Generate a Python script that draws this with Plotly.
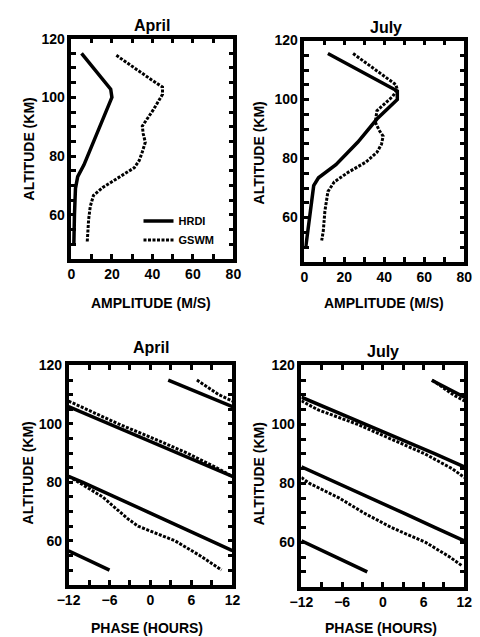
import plotly.graph_objects as go
import numpy as np

# ---------------- data ----------------
# Amplitude profiles (m/s) vs altitude (km)
apr_hrdi_amp_alt = [115, 102.8, 100, 77, 73, 69, 60, 50]
apr_hrdi_amp = [5, 19.4, 20, 6.2, 3.1, 2.0, 1.5, 1.2]

apr_gswm_amp_alt = [114.3, 110, 106, 103.5, 101, 95.7, 90.2, 87.5, 84.7, 81.4,
                    78.5, 76, 72.6, 69.3, 66.6, 62.8, 58.4, 54, 50.7]
apr_gswm_amp = [22.2, 31, 39.5, 45, 45, 40.4, 35, 35.5, 36.5, 35,
                33.5, 31, 23.3, 15.5, 10.9, 9.3, 8.5, 8.0, 7.8]

jul_hrdi_amp_alt = [115.6, 102.9, 100, 93.4, 85.6, 77.9, 73.5, 70.8, 50.3]
jul_hrdi_amp = [11.8, 46.5, 46.5, 36.3, 26.8, 15.8, 7.1, 4.7, 0.8]

jul_gswm_amp_alt = [115.6, 110, 105.1, 103.4, 101.1, 96.2, 92.3, 89.5, 87.6, 84.9,
                    82.1, 78.8, 75.4, 72.1, 68.8, 62.2, 55.5, 52.2]
jul_gswm_amp = [24.4, 36, 45.7, 46.5, 44.2, 36.3, 35.5, 37.5, 39.4, 38.6,
                36.3, 30.8, 22.1, 15.0, 11.8, 10.3, 9.5, 8.7]

# Phase profiles (hours, wrapped to [-12, 12]) vs altitude (km)
apr_hrdi_ph_alt = [115, 110, 100, 90, 80, 70, 60, 50]
apr_hrdi_ph = [2.6, 7.9, -6.0, 3.8, -9.9, -0.5, 8.9, -6.0]

apr_gswm_ph_alt = [115, 110, 105, 100, 95, 90, 85, 80, 75, 70, 67.5, 65, 62.5, 60, 55, 50]
apr_gswm_ph = [6.8, 10.0, -9.4, -4.7, 0.45, 5.4, 9.7, -10.5, -7.0, -4.5, -3.3, -1.8, 0.8, 3.6, 7.2, 10.4]

jul_hrdi_ph_alt = [115, 110, 105, 100, 95, 90, 85, 80, 75, 70, 65, 60, 55, 50]
jul_hrdi_ph = [7.2, 11.2, -7.6, -2.5, 2.6, 7.7, -11.4, -6.6, -1.8, 3.0, 7.7, -11.5, -6.9, -2.3]

jul_gswm_ph_alt = [115, 110, 105, 100, 95, 90, 85, 80, 75, 70, 65, 60, 55, 52]
jul_gswm_ph = [7.3, 10.4, -9.6, -3.7, 1.3, 6.2, 10.2, -10.8, -6.4, -2.8, 1.3, 6.3, 9.9, 11.7]

amp_ticks = [0, 20, 40, 60, 80]
phase_ticks = [-12, -6, 0, 6, 12]
alt_ticks = [60, 80, 100, 120]

FONT = "Liberation Sans"


def wrap_segments(phase, alt):
    """Unwrap a 24-h periodic phase profile and split it where it crosses +/-12 h."""
    ph = np.array(phase, dtype=float)
    al = np.array(alt, dtype=float)
    un = [ph[0]]
    for p in ph[1:]:
        d = p - un[-1]
        d = (d + 12) % 24 - 12
        un.append(un[-1] + d)
    un = np.array(un)
    xs, ys = [], []
    k0 = np.floor((un[0] + 12) / 24)
    xs.append(un[0] - 24 * k0)
    ys.append(al[0])
    for i in range(1, len(un)):
        a, b = un[i - 1], un[i]
        ka, kb = np.floor((a + 12) / 24), np.floor((b + 12) / 24)
        if ka != kb:
            step = 1 if kb > ka else -1
            k = ka
            while k != kb:
                bound = 24 * (k + (1 if step > 0 else 0)) - 12
                t = (bound - a) / (b - a)
                yb = al[i - 1] + t * (al[i] - al[i - 1])
                xs.append(bound - 24 * k)
                ys.append(yb)
                xs.append(None)
                ys.append(None)
                k += step
                xs.append(bound - 24 * k)
                ys.append(yb)
        xs.append(b - 24 * kb)
        ys.append(al[i])
    return xs, ys


fig = go.Figure()

solid = dict(color="black", width=3.5)
dotted = dict(color="black", width=3, dash="3px,1.5px")

# Panel 1: April amplitude
fig.add_trace(go.Scatter(x=apr_hrdi_amp, y=apr_hrdi_amp_alt, mode="lines", line=solid,
                         name="HRDI", xaxis="x", yaxis="y", showlegend=True))
fig.add_trace(go.Scatter(x=apr_gswm_amp, y=apr_gswm_amp_alt, mode="lines", line=dotted,
                         name="GSWM", xaxis="x", yaxis="y", showlegend=True))
# Panel 2: July amplitude
fig.add_trace(go.Scatter(x=jul_hrdi_amp, y=jul_hrdi_amp_alt, mode="lines", line=solid,
                         name="HRDI", xaxis="x2", yaxis="y2", showlegend=False))
fig.add_trace(go.Scatter(x=jul_gswm_amp, y=jul_gswm_amp_alt, mode="lines", line=dotted,
                         name="GSWM", xaxis="x2", yaxis="y2", showlegend=False))
# Panel 3: April phase
x, y = wrap_segments(apr_hrdi_ph, apr_hrdi_ph_alt)
fig.add_trace(go.Scatter(x=x, y=y, mode="lines", line=solid, name="HRDI",
                         xaxis="x3", yaxis="y3", showlegend=False, connectgaps=False))
x, y = wrap_segments(apr_gswm_ph, apr_gswm_ph_alt)
fig.add_trace(go.Scatter(x=x, y=y, mode="lines", line=dotted, name="GSWM",
                         xaxis="x3", yaxis="y3", showlegend=False, connectgaps=False))
# Panel 4: July phase
x, y = wrap_segments(jul_hrdi_ph, jul_hrdi_ph_alt)
fig.add_trace(go.Scatter(x=x, y=y, mode="lines", line=solid, name="HRDI",
                         xaxis="x4", yaxis="y4", showlegend=False, connectgaps=False))
x, y = wrap_segments(jul_gswm_ph, jul_gswm_ph_alt)
fig.add_trace(go.Scatter(x=x, y=y, mode="lines", line=dotted, name="GSWM",
                         xaxis="x4", yaxis="y4", showlegend=False, connectgaps=False))

W, H = 480, 637
tickfont = dict(family=FONT, size=14, color="black", weight="bold")


def axis_common():
    return dict(showline=True, linecolor="black", linewidth=3.5, mirror="ticks",
                ticks="inside", ticklen=5, tickwidth=3, tickcolor="black",
                showgrid=False, zeroline=False, tickfont=tickfont, fixedrange=True)


def xdom(l, r):
    return [l / W, r / W]


def ydom(top, bot):
    return [1 - bot / H, 1 - top / H]


panels = [
    ("xaxis", "yaxis", (62, 231), (31, 254), True, "x", "y"),
    ("xaxis2", "yaxis2", (305, 472), (33, 257), True, "x2", "y2"),
    ("xaxis3", "yaxis3", (59, 230), (362, 584), False, "x3", "y3"),
    ("xaxis4", "yaxis4", (302, 472), (362, 586), False, "x4", "y4"),
]
layout_axes = {}
for xk, yk, (l, r), (t, b), is_amp, xa, ya in panels:
    xa_d = axis_common()
    xa_d.update(domain=xdom(l, r), anchor=ya)
    if is_amp:
        xa_d.update(range=[0, 80], tickmode="array", tickvals=amp_ticks,
                    minor=dict(dtick=10, tick0=0, ticks="inside", ticklen=5, tickwidth=3, tickcolor="black"))
    else:
        xa_d.update(range=[-12, 12], tickmode="array", tickvals=phase_ticks,
                    minor=dict(dtick=3, tick0=-12, ticks="inside", ticklen=5, tickwidth=3, tickcolor="black"))
    ya_d = axis_common()
    ya_d.update(domain=ydom(t, b), anchor=xa, range=[45, 120], tickmode="array",
                tickvals=alt_ticks,
                minor=dict(dtick=5, tick0=0, ticks="inside", ticklen=5, tickwidth=3, tickcolor="black"))
    layout_axes[xk] = xa_d
    layout_axes[yk] = ya_d

ann = []


def txt(s, xp, yp, size, angle=0):
    ann.append(dict(text=s, x=xp / W, y=1 - yp / H, xref="paper", yref="paper",
                    showarrow=False, xanchor="center", yanchor="middle", textangle=angle,
                    font=dict(family=FONT, size=size, color="black", weight="bold")))


txt("April", 146, 18, 16)
txt("July", 390, 20, 16)
txt("April", 145, 344, 16)
txt("July", 387, 348, 16)
txt("ALTITUDE (KM)", 18, 143, 14, -90)
txt("ALTITUDE (KM)", 258, 147, 14, -90)
txt("ALTITUDE (KM)", 17, 471, 14, -90)
txt("ALTITUDE (KM)", 258, 472, 14, -90)
txt("AMPLITUDE (M/S)", 145, 299, 14)
txt("AMPLITUDE (M/S)", 388, 299, 14)
txt("PHASE (HOURS)", 141, 628, 14)
txt("PHASE (HOURS)", 385, 628, 14)

fig.update_layout(
    width=W, height=H,
    margin=dict(l=0, r=0, t=0, b=0),
    paper_bgcolor="white", plot_bgcolor="white",
    annotations=ann,
    showlegend=True,
    legend=dict(x=132 / W, y=1 - 201 / H, xanchor="left", yanchor="top",
                bgcolor="rgba(0,0,0,0)", borderwidth=0,
                font=dict(family=FONT, size=11, color="black", weight="bold"),
                itemwidth=30, tracegroupgap=0),
    **layout_axes,
)

fig.write_html("out.html", config={"displayModeBar": False},
               post_script="document.body.style.margin='0px';document.body.style.overflow='hidden';")
